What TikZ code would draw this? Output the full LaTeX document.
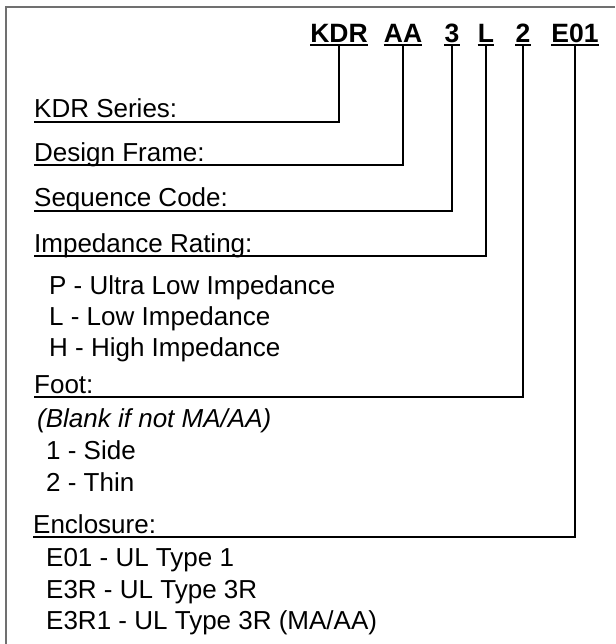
\documentclass[tikz,border=0pt]{standalone}
\usepackage{fontspec}
\setmainfont{Liberation Sans}
\definecolor{framegray}{RGB}{112,112,112}
\begin{document}
\begin{tikzpicture}[x=1pt,y=-1pt,
  lbl/.style={anchor=base west,inner sep=0pt,font=\fontsize{26}{30}\selectfont},
  ilbl/.style={anchor=base west,inner sep=0pt,font=\fontsize{26}{30}\selectfont\itshape},
  hdr/.style={anchor=base,inner sep=0pt,font=\fontsize{26.5}{30}\selectfont\bfseries},
  conn/.style={line width=2pt,black},
  uline/.style={line width=2.4pt,black},
  framestyle/.style={line width=2pt,draw=framegray}]
\useasboundingbox (0,0) rectangle (615,644);
\draw[framestyle] (6,644) -- (6,7) -- (615,7);

% header code
\node[hdr] (h1) at (339,43) {KDR};
\node[hdr] (h2) at (403,43) {AA};
\node[hdr] (h3) at (452,43) {3};
\node[hdr] (h4) at (486,43) {L};
\node[hdr] (h5) at (523,43) {2};
\node[hdr] (h6) at (575,43) {E01};
\foreach \h in {h1,h2,h3,h4,h5,h6}
  \draw[uline] ([yshift=-2pt]\h.base west) -- ([yshift=-2pt]\h.base east);

% labels
\node[lbl] (l1) at (34,118) {KDR Series:};
\node[lbl] (l2) at (34,162) {Design Frame:};
\node[lbl] (l3) at (34,207) {Sequence Code:};
\node[lbl] (l4) at (34,252) {Impedance Rating:};
\node[lbl] (p)  at (49,294) {P - Ultra Low Impedance};
\node[lbl] (lo) at (49,325) {L - Low Impedance};
\node[lbl] (hi) at (49,356) {H - High Impedance};
\node[lbl] (l5) at (34,393) {Foot:};
\node[ilbl] (bl) at (37,427) {(Blank if not MA/AA)};
\node[lbl] (s1) at (46,459) {1 - Side};
\node[lbl] (s2) at (46,491) {2 - Thin};
\node[lbl] (l6) at (33,533) {Enclosure:};
\node[lbl] (e1) at (46,566) {E01 - UL Type 1};
\node[lbl] (e2) at (46,598) {E3R - UL Type 3R};
\node[lbl] (e3) at (46,629) {E3R1 - UL Type 3R (MA/AA)};

% connectors
\draw[conn] ([yshift=-2pt]h1.base) |- ([yshift=-4pt]l1.base west);
\draw[conn] ([yshift=-2pt]h2.base) |- ([yshift=-3.5pt]l2.base west);
\draw[conn] ([yshift=-2pt]h3.base) |- ([yshift=-3.5pt]l3.base west);
\draw[conn] ([yshift=-2pt]h4.base) |- ([yshift=-3.5pt]l4.base west);
\draw[conn] ([yshift=-2pt]h5.base) |- ([yshift=-3.5pt]l5.base west);
\draw[conn] ([yshift=-2pt]h6.base) |- ([yshift=-3.5pt]l6.base west);
\end{tikzpicture}
\end{document}
